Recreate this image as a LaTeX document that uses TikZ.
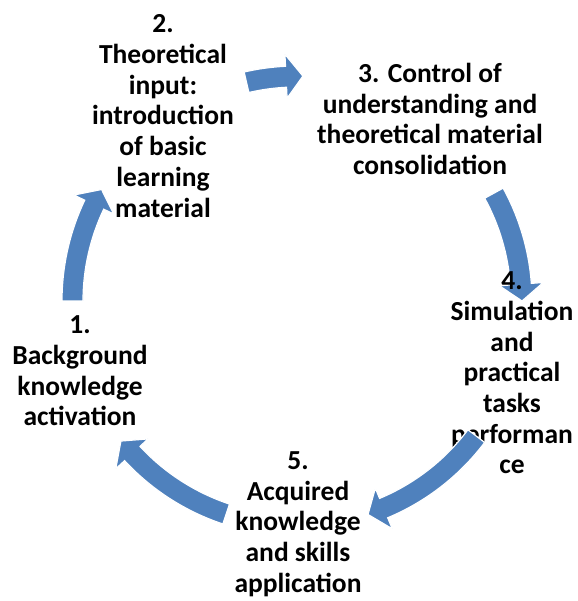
\documentclass[tikz,border=0pt]{standalone}
\usepackage{fontspec}
\setmainfont{Carlito}
\usepackage{xcolor}
\usepackage{tikz}
\usetikzlibrary{calc}
\definecolor{cycleblue}{RGB}{79,129,189}

% block arrow along the circle round (c), tail angle #1, tip angle #2
\newcommand{\cycarrow}[2]{%
  \pgfmathsetmacro{\hb}{#2+4.3}
  \filldraw[arrowshape] ([shift={(c)}]#1:214pt) arc[start angle=#1, end angle=\hb, radius=214pt]
    -- ([shift={(c)}]\hb:203pt) -- ([shift={(c)}]#2:225pt) -- ([shift={(c)}]\hb:247pt)
    -- ([shift={(c)}]\hb:235pt) arc[start angle=\hb, end angle=#1, radius=235pt] -- cycle;
}

\begin{document}
\begin{tikzpicture}[x=1pt, y=1pt,
    steptext/.style={align=center, inner sep=0pt, text=black,
      font=\fontsize{27.5}{30.7}\selectfont\bfseries},
    arrowshape/.style={fill=cycleblue, draw=white, line width=1.2pt, line join=miter}]
        \useasboundingbox (0,0) rectangle (577,601);
        \coordinate (c) at (297,300);

        % 1 -> 2
        \node[steptext] (t1) at (80,230) {1.\\Background\\knowledge\\activation};
        \cycarrow{180}{150.3}

        % 2 -> 3
        \node[steptext] (t2) at (163,485) {2.\\Theoretical\\input:\\introduction\\of basic\\learning\\material};
        \cycarrow{103}{88.5}

        % 3 -> 4
        \node[steptext] (t3) at (430,482) {3. Control of\\understanding and\\theoretical material\\consolidation};
        \cycarrow{28.7}{0}

        % 4 -> 5
        \node[steptext] (t4) at (512,228) {4.\\Simulation\\and\\practical\\tasks\\performan\\ce};
        \cycarrow{-37}{-71.6}

        % 5 -> 1
        \node[steptext] (t5) at (298,77) {5.\\Acquired\\knowledge\\and skills\\application};
        \cycarrow{-108.4}{-141.5}
\end{tikzpicture}
\end{document}
